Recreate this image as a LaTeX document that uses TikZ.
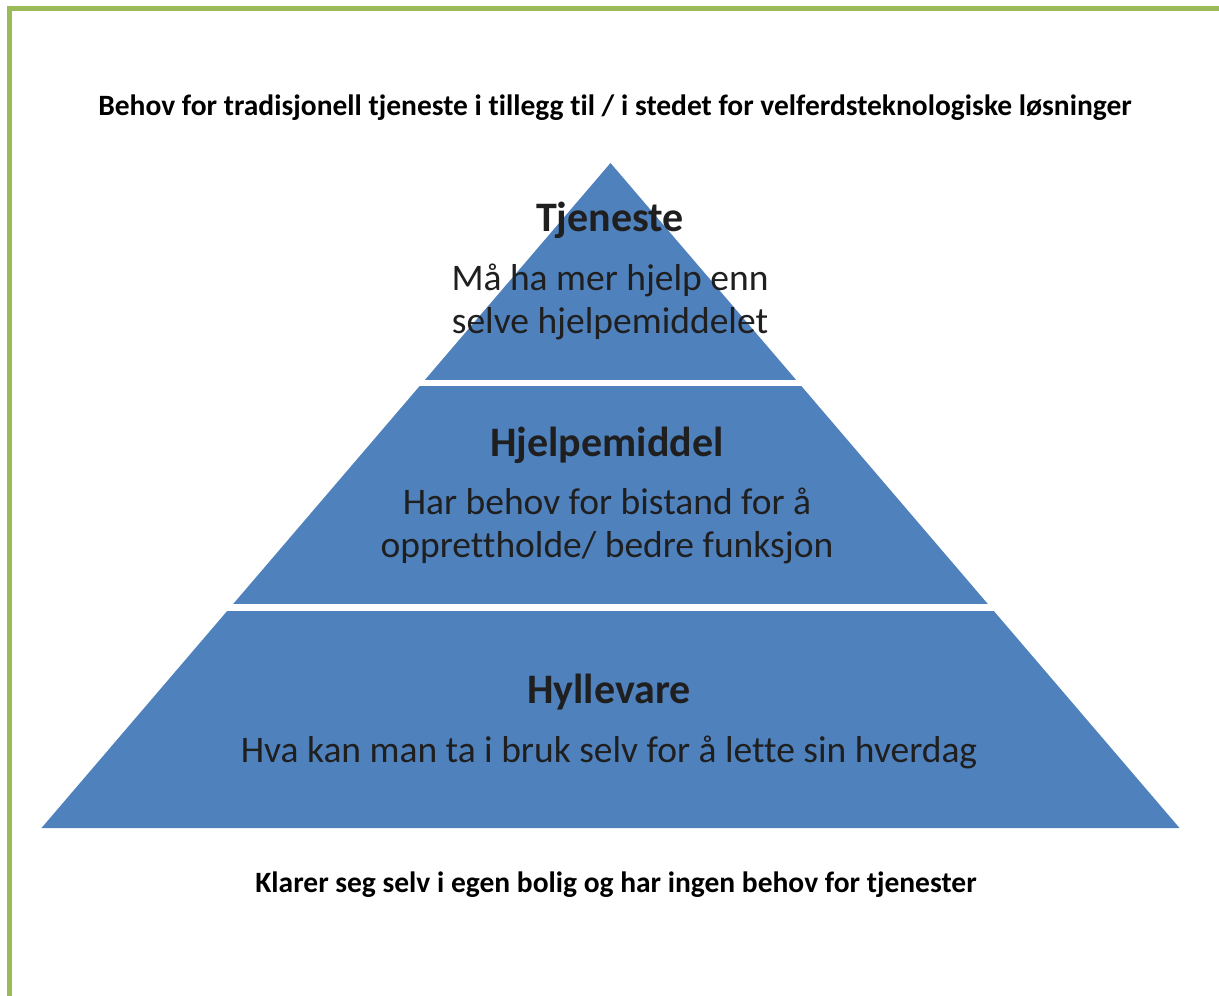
\documentclass[tikz,border=0pt]{standalone}
\usepackage{fontspec}
\setmainfont[Ligatures={NoCommon}]{Carlito}
\definecolor{framegreen}{HTML}{9BBB59}
\definecolor{pyrblue}{HTML}{4F81BD}
\begin{document}
\begin{tikzpicture}[x=1pt,y=-1pt,
  title/.style={font=\bfseries\fontsize{29.5}{34}\selectfont,text=black},
  head/.style={font=\bfseries\fontsize{42}{48}\selectfont,text=black!88},
  body/.style={font=\fontsize{37.5}{43}\selectfont,text=black!88,align=center}]
\useasboundingbox (0,0) rectangle (1219,996);
% frame, open to the right and bottom
\draw[framegreen,line width=5] (9.5,996) |- (1219,8.5);
% pyramid
\coordinate (apex) at (610.5,163);
\coordinate (bl) at (41.5,828);
\coordinate (br) at (1179.5,828);
\fill[pyrblue] (apex) -- (br) -- (bl) -- cycle;
\fill[white] (30,380) rectangle (1200,386);
\fill[white] (30,604) rectangle (1200,611);
% texts
\node[title] (top) at (615,108) {Behov for tradisjonell tjeneste i tillegg til / i stedet for velferdsteknologiske løsninger};
\node[head] (tjen) at (610,220) {Tjeneste};
\node[body] (tjentxt) at (610,302) {Må ha mer hjelp enn\\selve hjelpemiddelet};
\node[head] (hjelp) at (607,445) {Hjelpemiddel};
\node[body] (hjelptxt) at (607,526) {Har behov for bistand for å\\opprettholde/ bedre funksjon};
\node[head] (hylle) at (609,692) {Hyllevare};
\node[body] (hylletxt) at (609,752) {Hva kan man ta i bruk selv for å lette sin hverdag};
\node[title] (bottom) at (616,885) {Klarer seg selv i egen bolig og har ingen behov for tjenester};
\end{tikzpicture}
\end{document}
